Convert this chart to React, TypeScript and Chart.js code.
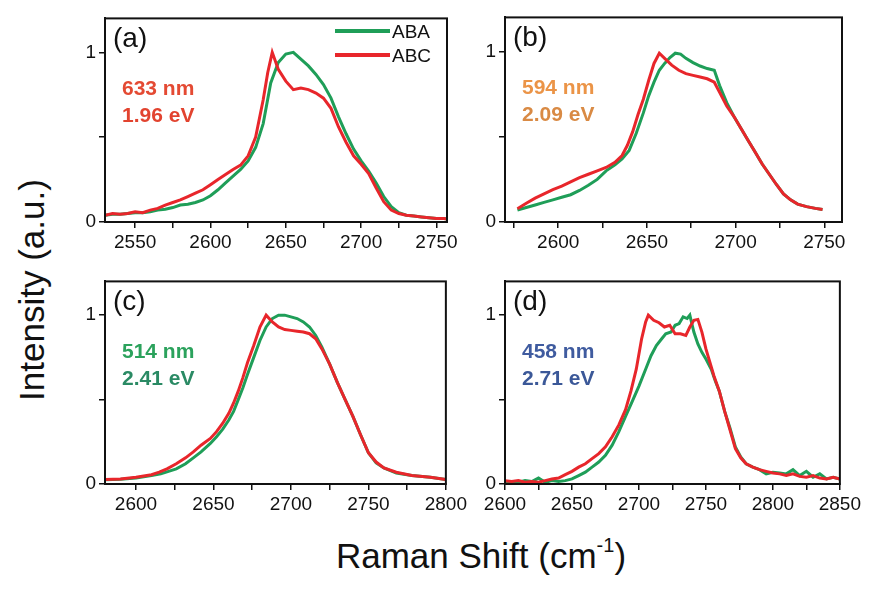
import React, { useEffect, useRef } from 'react';
import { Chart, registerables } from 'chart.js';

Chart.register(...registerables);

// ---------------- data ----------------
const A_ABC_X = [2530,2535,2540,2545,2550,2555,2560,2565,2570,2575,2580,2585,2590,2595,2600,2605,2610,2615,2620,2625,2630,2635,2638,2641,2645,2650,2655,2660,2665,2670,2675,2680,2685,2690,2695,2700,2705,2710,2715,2720,2725,2730,2735,2740,2745,2750,2755,2760];
const A_ABC_Y = [0.04,0.05,0.045,0.05,0.06,0.055,0.07,0.08,0.1,0.115,0.13,0.15,0.17,0.19,0.22,0.25,0.28,0.31,0.335,0.39,0.5,0.72,0.88,1.0,0.9,0.83,0.78,0.79,0.78,0.76,0.73,0.67,0.56,0.47,0.39,0.34,0.285,0.2,0.12,0.07,0.05,0.04,0.035,0.03,0.025,0.02,0.02,0.015];
const A_ABA_X = [2530,2535,2540,2545,2550,2555,2560,2565,2570,2575,2580,2585,2590,2595,2600,2605,2610,2615,2620,2625,2630,2635,2640,2645,2650,2655,2660,2665,2670,2675,2680,2685,2690,2695,2700,2705,2710,2715,2720,2725,2730,2735,2740,2745,2750,2755,2760];
const A_ABA_Y = [0.04,0.045,0.045,0.05,0.055,0.055,0.06,0.07,0.075,0.085,0.1,0.105,0.115,0.13,0.155,0.19,0.23,0.27,0.31,0.36,0.44,0.58,0.82,0.94,0.99,1.0,0.96,0.92,0.87,0.81,0.73,0.62,0.52,0.43,0.36,0.3,0.23,0.15,0.09,0.055,0.04,0.035,0.03,0.025,0.02,0.02,0.015];

const B_ABC_X = [2577,2582,2587,2592,2597,2602,2607,2612,2617,2622,2627,2632,2636,2639,2642,2645,2648,2651,2654,2657,2660,2664,2668,2672,2676,2680,2684,2688,2691,2695,2699,2703,2707,2711,2715,2719,2723,2727,2731,2735,2740,2745,2749];
const B_ABC_Y = [0.078,0.11,0.14,0.165,0.19,0.21,0.235,0.26,0.28,0.30,0.32,0.35,0.39,0.45,0.53,0.63,0.72,0.83,0.93,0.99,0.96,0.92,0.89,0.87,0.86,0.85,0.84,0.82,0.76,0.68,0.62,0.55,0.48,0.41,0.34,0.28,0.22,0.165,0.13,0.105,0.09,0.08,0.073];
const B_ABA_X = [2577,2582,2587,2592,2597,2602,2607,2612,2617,2622,2627,2632,2636,2640,2644,2648,2651,2654,2657,2660,2663,2666,2669,2672,2676,2680,2684,2688,2691,2695,2699,2703,2707,2711,2715,2719,2723,2727,2731,2735,2740,2745,2749];
const B_ABA_Y = [0.07,0.085,0.1,0.115,0.13,0.145,0.16,0.185,0.215,0.25,0.3,0.335,0.37,0.42,0.52,0.64,0.74,0.82,0.89,0.93,0.965,0.99,0.985,0.96,0.935,0.915,0.9,0.89,0.8,0.7,0.62,0.55,0.48,0.41,0.34,0.28,0.22,0.165,0.13,0.105,0.09,0.08,0.073];

const C_ABC_X = [2580,2590,2600,2610,2615,2620,2626,2632,2637,2642,2648,2652,2656,2660,2663,2666,2669,2672,2676,2680,2684,2688,2692,2696,2700,2704,2708,2712,2716,2720,2725,2730,2735,2740,2745,2750,2755,2760,2768,2778,2790,2800];
const C_ABC_Y = [0.027,0.03,0.04,0.055,0.07,0.09,0.12,0.155,0.19,0.23,0.27,0.31,0.36,0.42,0.48,0.55,0.63,0.72,0.82,0.93,1.0,0.96,0.93,0.915,0.91,0.905,0.9,0.89,0.86,0.8,0.71,0.6,0.5,0.4,0.29,0.185,0.13,0.095,0.07,0.05,0.04,0.027];
const C_ABA_X = [2580,2590,2600,2610,2616,2621,2626,2632,2637,2642,2648,2652,2656,2660,2663,2666,2669,2672,2676,2680,2684,2688,2692,2696,2700,2704,2708,2712,2716,2720,2725,2730,2735,2740,2745,2750,2755,2760,2768,2778,2790,2800];
const C_ABA_Y = [0.025,0.028,0.035,0.05,0.06,0.075,0.09,0.12,0.155,0.19,0.24,0.28,0.325,0.38,0.43,0.5,0.57,0.65,0.75,0.85,0.93,0.98,1.0,1.0,0.99,0.98,0.96,0.93,0.88,0.81,0.71,0.6,0.5,0.4,0.29,0.185,0.125,0.095,0.065,0.05,0.04,0.027];

const D_ABC_X = [2600,2605,2610,2615,2620,2625,2630,2635,2640,2645,2650,2655,2660,2665,2670,2675,2680,2685,2690,2694,2698,2702,2705,2707,2711,2715,2719,2723,2727,2731,2735,2738,2741,2744,2747,2750,2753,2756,2760,2764,2768,2772,2776,2780,2785,2790,2795,2800,2805,2810,2815,2820,2825,2830,2835,2840,2845,2850];
const D_ABC_Y = [0.02,0.015,0.02,0.01,0.015,0.01,0.02,0.03,0.035,0.055,0.075,0.1,0.12,0.15,0.18,0.22,0.28,0.35,0.44,0.55,0.68,0.86,0.96,1.0,0.97,0.955,0.93,0.94,0.89,0.89,0.88,0.93,0.97,0.975,0.9,0.8,0.72,0.64,0.55,0.43,0.32,0.21,0.155,0.12,0.1,0.085,0.075,0.065,0.06,0.05,0.06,0.045,0.04,0.05,0.035,0.03,0.04,0.03];
const D_ABA_X = [2600,2605,2610,2615,2620,2625,2630,2635,2640,2645,2650,2655,2660,2665,2670,2675,2680,2685,2690,2695,2700,2705,2709,2713,2717,2720,2724,2727,2730,2733,2736,2738,2741,2744,2747,2750,2754,2757,2760,2764,2768,2772,2776,2780,2785,2790,2795,2800,2805,2810,2815,2820,2825,2830,2835,2840,2845,2850];
const D_ABA_Y = [0.01,0.005,0.01,0.02,0.015,0.035,0.01,0.02,0.015,0.02,0.03,0.05,0.07,0.1,0.13,0.17,0.23,0.31,0.4,0.49,0.58,0.68,0.76,0.82,0.86,0.89,0.9,0.94,0.95,0.99,0.98,1.0,0.9,0.83,0.78,0.74,0.68,0.61,0.55,0.43,0.33,0.22,0.16,0.12,0.1,0.085,0.06,0.07,0.065,0.06,0.085,0.05,0.075,0.04,0.06,0.03,0.04,0.03];

const SERIES_NAMES = ['ABA', 'ABC'];
const X_RANGES = [[2530, 2757], [2570, 2760], [2580, 2800], [2600, 2850]];
const Y_RANGE = [0, 1.2];
const PANEL_TAGS = ['(a)', '(b)', '(c)', '(d)'];
const WAVELENGTHS = ['633 nm', '594 nm', '514 nm', '458 nm'];
const ENERGIES = ['1.96 eV', '2.09 eV', '2.41 eV', '2.71 eV'];
const X_TITLE = 'Raman Shift (cm';
const X_TITLE_SUP = '-1';
const Y_TITLE = 'Intensity (a.u.)';

// ---------------- styles ----------------
const FONT = "'Liberation Sans', Arial, Helvetica, sans-serif";
const GREEN = '#1f9e58';
const RED = '#e8262b';
const LABEL_COLORS = [
  ['#e44a33', '#e2432f'],
  ['#eb9447', '#d98a44'],
  ['#2ba25c', '#2a8a64'],
  ['#3f5b9f', '#3b5898'],
];
// chart areas in page pixels: left, top, right, bottom
const AREAS = [
  [105, 10, 447, 222],
  [505, 9, 842, 222],
  [105, 273, 448, 484],
  [505, 273, 842, 484],
];
const PAD_L = 45, PAD_T = 6, PAD_R = 22, PAD_B = 42;

const zip = (xs: number[], ys: number[]) => xs.map((x, i) => ({ x, y: ys[i] }));

const framePlugin = {
  id: 'frame',
  afterDatasetsDraw(chart: any) {
    const { ctx, chartArea } = chart;
    ctx.save();
    ctx.strokeStyle = '#111';
    ctx.lineWidth = 2;
    ctx.strokeRect(chartArea.left, chartArea.top, chartArea.right - chartArea.left, chartArea.bottom - chartArea.top);
    ctx.restore();
  },
};

type PanelProps = { idx: number; aba: { x: number; y: number }[]; abc: { x: number; y: number }[] };

function Panel({ idx, aba, abc }: PanelProps) {
  const ref = useRef<HTMLCanvasElement>(null);
  const [L, T, R, B] = AREAS[idx];
  const w = R - L + PAD_L + PAD_R;
  const h = B - T + PAD_T + PAD_B;
  useEffect(() => {
    if (!ref.current) return;
    const tickFont = { family: FONT, size: 19 };
    const chart = new Chart(ref.current, {
      type: 'line',
      data: {
        datasets: [
          { label: SERIES_NAMES[1], data: abc, borderColor: RED, borderWidth: 3, pointRadius: 0, tension: 0, fill: false, order: 0 },
          { label: SERIES_NAMES[0], data: aba, borderColor: GREEN, borderWidth: 3, pointRadius: 0, tension: 0, fill: false, order: 1 },
        ],
      },
      options: {
        animation: false,
        responsive: false,
        maintainAspectRatio: false,
        devicePixelRatio: 1,
        layout: { padding: { top: PAD_T, right: PAD_R, left: 0, bottom: 0 } },
        plugins: { legend: { display: false }, tooltip: { enabled: false } },
        scales: {
          x: {
            type: 'linear',
            min: X_RANGES[idx][0],
            max: X_RANGES[idx][1],
            afterFit: (s: any) => { s.height = PAD_B; },
            ticks: {
              stepSize: 25,
              includeBounds: false,
              autoSkip: false,
              maxRotation: 0,
              minRotation: 0,
              padding: 3,
              color: '#111',
              font: tickFont,
              callback: (v: any) => (Math.round(v) % 50 === 0 ? String(Math.round(v)) : ''),
            },
            grid: { display: true, drawOnChartArea: false, drawTicks: true, tickLength: 6, color: '#111', lineWidth: 1.5 },
            border: { display: true, color: '#111', width: 2 },
          },
          y: {
            type: 'linear',
            min: Y_RANGE[0],
            max: Y_RANGE[1],
            afterFit: (s: any) => { s.width = PAD_L; },
            ticks: {
              stepSize: 0.5,
              includeBounds: false,
              padding: 3,
              color: '#111',
              font: tickFont,
              callback: (v: any) => (v === 0 ? '0' : v === 1 ? '1' : ''),
            },
            grid: { display: true, drawOnChartArea: false, drawTicks: true, tickLength: 6, color: '#111', lineWidth: 1.5 },
            border: { display: true, color: '#111', width: 2 },
          },
        },
      },
      plugins: [framePlugin],
    } as any);
    return () => chart.destroy();
  }, [idx, aba, abc]);
  return (
    <canvas
      ref={ref}
      width={w}
      height={h}
      style={{ position: 'absolute', left: L - PAD_L, top: T - PAD_T, width: w, height: h }}
    />
  );
}

const txt = (extra: React.CSSProperties): React.CSSProperties => ({
  position: 'absolute',
  fontFamily: FONT,
  lineHeight: 1,
  whiteSpace: 'nowrap',
  ...extra,
});

const PANEL_DATA = [
  { aba: zip(A_ABA_X, A_ABA_Y), abc: zip(A_ABC_X, A_ABC_Y) },
  { aba: zip(B_ABA_X, B_ABA_Y), abc: zip(B_ABC_X, B_ABC_Y) },
  { aba: zip(C_ABA_X, C_ABA_Y), abc: zip(C_ABC_X, C_ABC_Y) },
  { aba: zip(D_ABA_X, D_ABA_Y), abc: zip(D_ABC_X, D_ABC_Y) },
];

export default function App() {
  return (
    <div style={{ position: 'fixed', left: 0, top: 0, width: 870, height: 592, background: '#fff', overflow: 'hidden' }}>
      {PANEL_DATA.map((p, i) => (
        <Panel key={i} idx={i} aba={p.aba} abc={p.abc} />
      ))}
      {AREAS.map((a, i) => (
        <React.Fragment key={'t' + i}>
          <div style={txt({ left: a[0] + 8, top: a[1] + 14, fontSize: 28, color: '#111' })}>{PANEL_TAGS[i]}</div>
          <div style={txt({ left: a[0] + 17, top: a[1] + 67, fontSize: 21, fontWeight: 'bold', color: LABEL_COLORS[i][0] })}>{WAVELENGTHS[i]}</div>
          <div style={txt({ left: a[0] + 17, top: a[1] + 94, fontSize: 21, fontWeight: 'bold', color: LABEL_COLORS[i][1] })}>{ENERGIES[i]}</div>
        </React.Fragment>
      ))}
      {/* legend in panel (a) */}
      <div style={{ position: 'absolute', left: 335, top: 29, width: 55, height: 4, background: GREEN }} />
      <div style={{ position: 'absolute', left: 335, top: 53, width: 55, height: 4, background: RED }} />
      <div style={txt({ left: 392, top: 22, fontSize: 19, color: '#111' })}>{SERIES_NAMES[0]}</div>
      <div style={txt({ left: 392, top: 46, fontSize: 19, color: '#111' })}>{SERIES_NAMES[1]}</div>
      {/* axis titles */}
      <div style={txt({ left: 481, top: 538, fontSize: 35, color: '#111', transform: 'translateX(-50%)' })}>
        {X_TITLE}
        <sup style={{ fontSize: 20, verticalAlign: 'top', position: 'relative', top: -3 }}>{X_TITLE_SUP}</sup>)
      </div>
      <div style={txt({ left: 31, top: 290, fontSize: 35, color: '#111', transform: 'translate(-50%, -50%) rotate(-90deg)' })}>
        {Y_TITLE}
      </div>
    </div>
  );
}
